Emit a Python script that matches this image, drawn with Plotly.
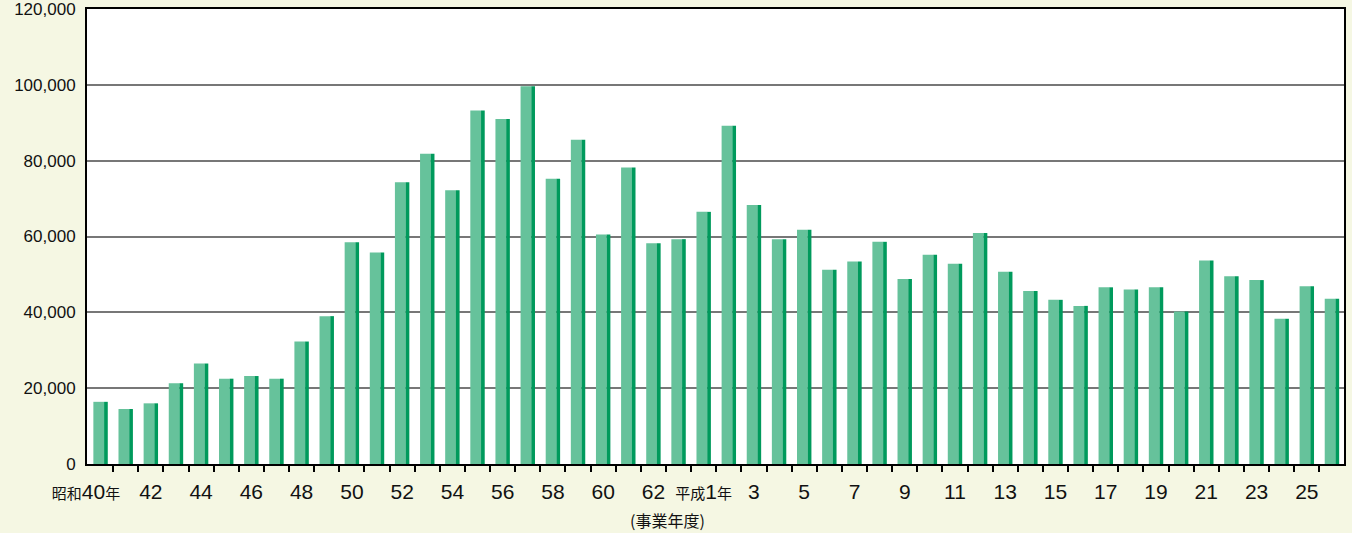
import plotly.graph_objects as go

years = ["昭和40", "41", "42", "43", "44", "45", "46", "47", "48", "49",
         "50", "51", "52", "53", "54", "55", "56", "57", "58", "59",
         "60", "61", "62", "63", "平成1", "2", "3", "4", "5", "6",
         "7", "8", "9", "10", "11", "12", "13", "14", "15", "16",
         "17", "18", "19", "20", "21", "22", "23", "24", "25", "26"]
values = [16400, 14500, 16000, 21300, 26500, 22500, 23200, 22500, 32300, 39000,
          58500, 55800, 74300, 81800, 72200, 93200, 91000, 99600, 75200, 85500,
          60500, 78200, 58200, 59300, 66500, 89200, 68300, 59300, 61800, 51200,
          53400, 58600, 48800, 55200, 52800, 60900, 50700, 45600, 43300, 41700,
          46600, 46000, 46600, 40200, 53700, 49500, 48500, 38300, 46900, 43600]
yticks = [0, 20000, 40000, 60000, 80000, 100000, 120000]

S = '<span style="font-size:15px">'
E = '</span>'
label_idx = list(range(0, len(years), 2))
ticktext = []
for i in label_idx:
    y = years[i]
    if y.startswith("昭和"):
        ticktext.append(S + "昭和" + E + y[2:] + S + "年" + E + "&nbsp;" * 5)
    elif y.startswith("平成"):
        ticktext.append(S + "平成" + E + y[2:] + S + "年" + E)
    else:
        ticktext.append(y)

x = list(range(len(years)))
BG = "#f5f7e3"

fig = go.Figure()
fig.add_trace(go.Bar(x=x, y=values, width=0.43, offset=-0.287,
                     marker=dict(color="#66c29b", line=dict(width=0)),
                     hoverinfo="skip", showlegend=False))
fig.add_trace(go.Bar(x=x, y=values, width=0.147, offset=0.14,
                     marker=dict(color="#009a5c", line=dict(width=0)),
                     hoverinfo="skip", showlegend=False))

fig.update_layout(
    width=1352, height=533,
    margin=dict(l=87, r=8, t=9, b=69),
    paper_bgcolor=BG,
    plot_bgcolor="#ffffff",
    barmode="overlay",
    font=dict(family="Liberation Sans, Arial, Noto Sans CJK JP", color="#111111"),
    xaxis=dict(
        range=[-0.54, 49.48],
        tickmode="array", tickvals=label_idx, ticktext=ticktext,
        tickangle=0,
        ticks="", showgrid=False, zeroline=False, automargin=False,
        ticklabeloverflow="allow",
        showline=True, linecolor="#000000", linewidth=2, mirror=True,
        tickfont=dict(size=21, family="Liberation Sans, Arial, Noto Sans CJK JP"),
        ticklabelstandoff=8,
        minor=dict(ticks="outside", ticklen=6, tickwidth=2, tickcolor="#000000",
                   tickmode="array", tickvals=[i + 0.5 for i in range(len(years) - 1)],
                   showgrid=False),
    ),
    yaxis=dict(
        range=[0, 120000],
        tickmode="array", tickvals=yticks,
        ticktext=[f"{v:,}" for v in yticks],
        ticks="", showgrid=True, gridcolor="#777777", gridwidth=1.5,
        zeroline=False, automargin=False, ticklabeloverflow="allow",
        showline=True, linecolor="#000000", linewidth=2, mirror=True,
        tickfont=dict(size=17),
        ticklabelstandoff=6,
    ),
    annotations=[dict(text="(事業年度)", xref="paper", yref="paper",
                      x=0.462, y=-0.124, xanchor="center", yanchor="middle",
                      showarrow=False,
                      font=dict(size=16, family="Noto Sans CJK JP"))],
)

fig.write_html("out.html", config={"displayModeBar": False},
               post_script="document.body.style.margin='0';document.body.style.background='%s';" % BG)
